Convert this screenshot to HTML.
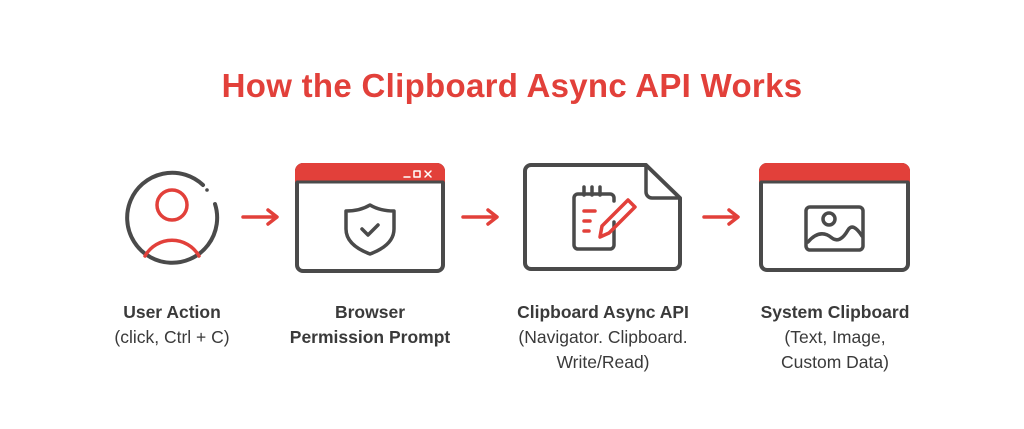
<!DOCTYPE html>
<html><head><style>
html,body{margin:0;padding:0;background:#fff;}
body{width:1024px;height:429px;position:relative;overflow:hidden;font-family:"Liberation Sans",sans-serif;}
.t{position:absolute;left:0;width:1024px;text-align:center;top:67px;font-size:33px;font-weight:bold;color:#e2403a;letter-spacing:0.3px;}
.l{position:absolute;width:260px;text-align:center;font-size:17.5px;line-height:25px;color:#3a3a3a;top:300px;}
.l b{font-weight:bold;}
</style></head><body>
<div class="t">How the Clipboard Async API Works</div>
<svg width="1024" height="429" style="position:absolute;left:0;top:0" fill="none" stroke-linecap="round" stroke-linejoin="round">
<!-- user -->
<path d="M203 185 A45 45 0 1 0 215 204" stroke="#4a4a4a" stroke-width="4"/>
<circle cx="207" cy="190" r="1.8" fill="#4a4a4a" stroke="none"/>
<circle cx="172" cy="205" r="15" stroke="#e2403a" stroke-width="3.5"/>
<path d="M145 256 A31 31 0 0 1 199 256" stroke="#e2403a" stroke-width="3.5"/>
<!-- arrows -->
<g stroke="#e2403a" stroke-width="3.5">
<path d="M243 217 H276 M268 210 L277 217 L268 224"/>
<path d="M463 217 H496 M488 210 L497 217 L488 224"/>
<path d="M704 217 H737 M729 210 L738 217 L729 224"/>
</g>
<!-- browser -->
<rect x="297" y="165" width="146" height="106" rx="6" stroke="#4a4a4a" stroke-width="4"/>
<path d="M297 181 V171 a6 6 0 0 1 6 -6 H437 a6 6 0 0 1 6 6 V181 Z" fill="#e2403a" stroke="#e2403a" stroke-width="4"/>
<path d="M297 182 H443" stroke="#4a4a4a" stroke-width="3"/>
<g stroke="#fff" stroke-width="1.5"><path d="M404 177 H410"/><rect x="414" y="171" width="6" height="6"/><path d="M425 171 L431 177 M431 171 L425 177"/></g>
<path d="M370 205 Q360 211 346 211 V229 Q346 245 370 254 Q394 245 394 229 V211 Q380 211 370 205 Z" stroke="#4a4a4a" stroke-width="3.5"/>
<path d="M362 229 L368 235 L378 225" stroke="#4a4a4a" stroke-width="3.5"/>
<!-- doc -->
<path d="M531 165 H646 L680 198 V263 a6 6 0 0 1 -6 6 H531 a6 6 0 0 1 -6 -6 V171 a6 6 0 0 1 6 -6 Z" stroke="#4a4a4a" stroke-width="4"/>
<path d="M646 165 V192 a6 6 0 0 0 6 6 H680" stroke="#4a4a4a" stroke-width="3.5"/>
<path d="M614 222 V245 a4 4 0 0 1 -4 4 H578 a4 4 0 0 1 -4 -4 V198 a4 4 0 0 1 4 -4 H610 a4 4 0 0 1 4 4 V201" stroke="#4a4a4a" stroke-width="3.5"/>
<path d="M584 187 V195 M592 187 V195 M600 187 V195" stroke="#4a4a4a" stroke-width="3.5"/>
<path d="M584 211 H595 M584 221 H590 M584 231 H589" stroke="#e2403a" stroke-width="3.5"/>
<path d="M600 237 L602 226 L628 200 L635 207 L609 233 Z" stroke="#e2403a" stroke-width="3.5"/>
<!-- system -->
<rect x="761" y="165" width="147" height="105" rx="6" stroke="#4a4a4a" stroke-width="4"/>
<path d="M761 181 V171 a6 6 0 0 1 6 -6 H902 a6 6 0 0 1 6 6 V181 Z" fill="#e2403a" stroke="#e2403a" stroke-width="4"/>
<path d="M761 182 H908" stroke="#4a4a4a" stroke-width="3"/>
<rect x="806" y="207" width="57" height="43" rx="4" stroke="#4a4a4a" stroke-width="3.5"/>
<circle cx="829" cy="219" r="6" stroke="#4a4a4a" stroke-width="3.5"/>
<path d="M808 242 Q820 228 832 238 Q840 244 848 230 Q853 222 862 236" stroke="#4a4a4a" stroke-width="3.5"/>
</svg>
<div class="l" style="left:42px"><b>User Action</b><br>(click, Ctrl + C)</div>
<div class="l" style="left:240px"><b>Browser<br>Permission Prompt</b></div>
<div class="l" style="left:473px"><b>Clipboard Async API</b><br>(Navigator. Clipboard.<br>Write/Read)</div>
<div class="l" style="left:705px"><b>System Clipboard</b><br>(Text, Image,<br>Custom Data)</div>
</body></html>
